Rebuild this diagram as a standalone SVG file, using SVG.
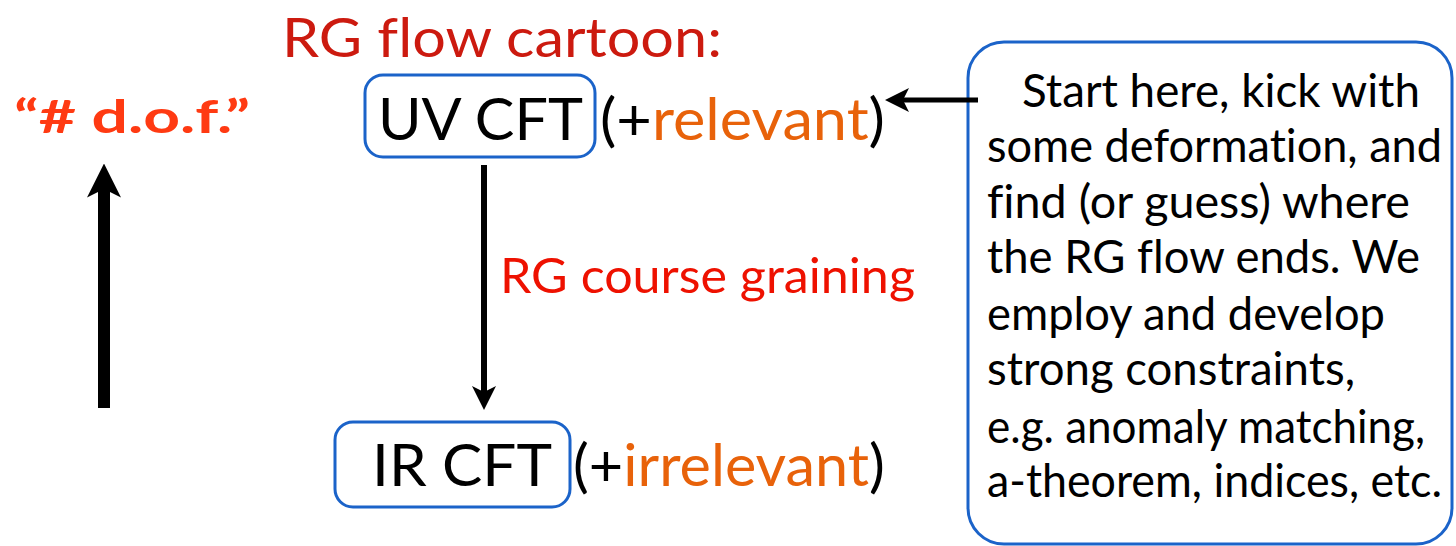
<svg xmlns="http://www.w3.org/2000/svg" width="1456" height="546" viewBox="0 0 1456 546">
  <style>
    text { font-family: Lato, "Open Sans", "Liberation Sans", sans-serif; font-variant-ligatures: none; font-feature-settings: "liga" 0, "clig" 0; }
    .box { fill: #ffffff; stroke: #1b63c9; stroke-width: 3; }
    .big { font-size: 58px; fill: #000; }
    .note { font-size: 46px; fill: #000; }
    .orange { fill: #e8620a; }
    .wire { stroke: #000; fill: none; }
  </style>
  <defs>
    <!-- barbed heads; the line ends at the notch so the tip stays sharp -->
    <marker id="head-thin" viewBox="0 0 10 10" refX="2.5" refY="5" markerUnits="userSpaceOnUse" markerWidth="24" markerHeight="24" orient="auto">
      <path d="M0,0 L10,5 L0,10 L2.5,5 Z" fill="#000"/>
    </marker>
    <marker id="head-wide" viewBox="0 0 10 10" refX="2.5" refY="5" markerUnits="userSpaceOnUse" markerWidth="34" markerHeight="34" orient="auto">
      <path d="M0,0 L10,5 L0,10 L2.5,5 Z" fill="#000"/>
    </marker>
  </defs>

  <rect width="1456" height="546" fill="#ffffff"/>

  <!-- title -->
  <text id="title" x="282" y="57" font-size="54" fill="#cc1a0f" textLength="440" lengthAdjust="spacingAndGlyphs">RG flow cartoon:</text>

  <!-- vertical axis label -->
  <g id="dof">
    <text x="14" y="133" font-size="46" font-weight="bold" fill="#ff3a12" textLength="236" lengthAdjust="spacingAndGlyphs">“# d.o.f.”</text>
  </g>

  <!-- UV fixed point -->
  <g id="uv">
    <rect class="box" x="365" y="75" width="230" height="82" rx="18"/>
    <text class="big" x="378" y="140" textLength="205" lengthAdjust="spacingAndGlyphs">UV CFT</text>
    <text class="big" x="600" y="140" textLength="285" lengthAdjust="spacingAndGlyphs">(+<tspan class="orange">relevant</tspan>)</text>
  </g>

  <!-- IR fixed point -->
  <g id="ir">
    <rect class="box" x="335" y="422" width="235" height="85" rx="18"/>
    <text class="big" x="372" y="486" textLength="180" lengthAdjust="spacingAndGlyphs">IR CFT</text>
    <text class="big" x="573" y="486" textLength="312" lengthAdjust="spacingAndGlyphs">(+<tspan class="orange">irrelevant</tspan>)</text>
  </g>

  <!-- flow label -->
  <g id="flow-label">
    <text x="500" y="293" font-size="48" fill="#ee1100" textLength="415" lengthAdjust="spacingAndGlyphs">RG course graining</text>
  </g>

  <!-- explanation box -->
  <g id="note">
    <rect class="box" x="968" y="42" width="484" height="502" rx="36"/>
    <text class="note" x="1022" y="107" textLength="398" lengthAdjust="spacingAndGlyphs">Start here, kick with</text>
    <text class="note" x="987" y="162" textLength="455" lengthAdjust="spacingAndGlyphs">some deformation, and</text>
    <text class="note" x="987" y="218" textLength="423" lengthAdjust="spacingAndGlyphs">find (or guess) where</text>
    <text class="note" x="987" y="273" textLength="433" lengthAdjust="spacingAndGlyphs">the RG flow ends. We</text>
    <text class="note" x="987" y="330" textLength="398" lengthAdjust="spacingAndGlyphs">employ and develop</text>
    <text class="note" x="987" y="385" textLength="368" lengthAdjust="spacingAndGlyphs">strong constraints,</text>
    <text class="note" x="987" y="443" textLength="438" lengthAdjust="spacingAndGlyphs">e.g. anomaly matching,</text>
    <text class="note" x="987" y="497" textLength="455" lengthAdjust="spacingAndGlyphs">a-theorem, indices, etc.</text>
  </g>

  <!-- connectors -->
  <g id="connectors">
    <line class="wire" x1="978" y1="100" x2="903" y2="100" stroke-width="5" marker-end="url(#head-thin)"/>
    <line class="wire" x1="484" y1="165" x2="484" y2="392" stroke-width="6" marker-end="url(#head-thin)"/>
    <line class="wire" x1="104" y1="408" x2="104" y2="189" stroke-width="12" marker-end="url(#head-wide)"/>
  </g>
</svg>
